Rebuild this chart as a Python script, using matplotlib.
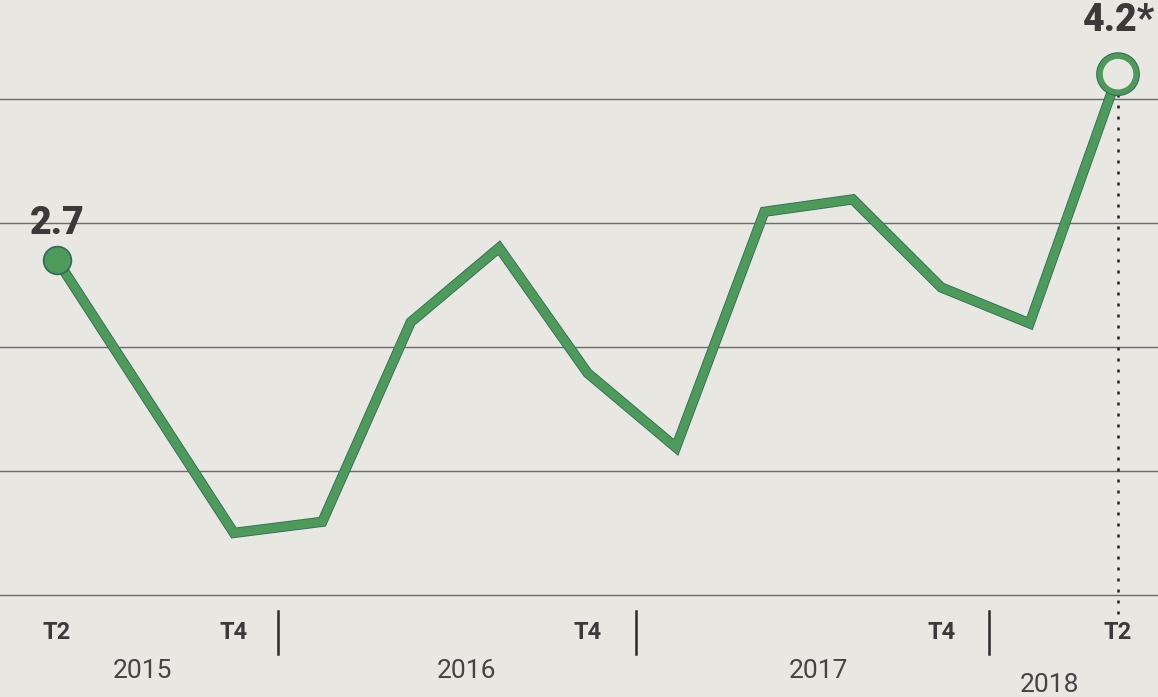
import matplotlib
matplotlib.use('Agg')
import matplotlib.pyplot as plt
import matplotlib.patheffects as pe

# ── DATA ─────────────────────────────────────────────────────
quarters = ['T2', 'T3', 'T4', 'T1', 'T2', 'T3', 'T4',
            'T1', 'T2', 'T3', 'T4', 'T1', 'T2']
values = [2.7, 1.6, 0.5, 0.59, 2.2, 2.8, 1.79,
          1.19, 3.09, 3.19, 2.48, 2.19, 4.2]
shown_ticks = [0, 2, 6, 10, 12]
years = ['2015', '2016', '2017', '2018']
grid_levels = [0, 1, 2, 3, 4]
first_label = '2.7'
last_label = '4.2*'

# ── STYLE ────────────────────────────────────────────────────
BG = '#e9e7e2'
GREEN = '#4d9a5a'
EDGE = '#2f6b5c'
TXT = '#3a3a3a'

plt.rcParams['font.family'] = ['Roboto', 'DejaVu Sans']

fig = plt.figure(figsize=(11.58, 6.97), dpi=100)
fig.patch.set_facecolor(BG)
ax = fig.add_axes([0, 0, 1, 1])
ax.set_facecolor(BG)
ax.set_xlim(-0.645, 12.452)
ax.set_ylim(-0.823, 4.798)
ax.axis('off')

# horizontal gridlines
for g in grid_levels:
    ax.axhline(g, color='#6b6b6b', lw=1.0, zorder=1)

x = list(range(len(values)))

# dotted drop line at the last point
ax.vlines(x[-1], -0.15, values[-1] - 0.17, colors='#222222', lw=1.8,
          linestyles=(0, (1.2, 3.2)), zorder=2)

# main line
ax.plot(x, values, color=GREEN, lw=6.2, solid_joinstyle='miter',
        solid_capstyle='butt', zorder=3,
        path_effects=[pe.Stroke(linewidth=7.4, foreground=EDGE), pe.Normal()])

# first point: filled, last point: hollow
ax.plot(x[0], values[0], 'o', ms=20, color=GREEN, mec=EDGE, mew=1.2, zorder=4)
ax.plot(x[-1], values[-1], 'o', ms=26, mfc=BG, mec=GREEN, mew=4, zorder=4,
        path_effects=[pe.Stroke(linewidth=5.5, foreground=EDGE), pe.Normal()])

# value labels
ax.annotate(first_label, (x[0], values[0]), xytext=(0, 19),
            textcoords='offset points', ha='center', va='baseline',
            fontsize=27, fontweight='heavy', color=TXT, zorder=5)
ax.annotate(last_label, (x[-1], values[-1]), xytext=(1, 31),
            textcoords='offset points', ha='center', va='baseline',
            fontsize=27, fontweight='heavy', color=TXT, zorder=5)

# quarter labels
for i in shown_ticks:
    ax.text(x[i], -0.30, quarters[i], ha='center', va='center',
            fontsize=17, fontweight='bold', color=TXT)

# year separators
for sx in [2.5, 6.55, 10.54]:
    ax.plot([sx, sx], [-0.13, -0.48], color='#2a2a2a', lw=1.8)

# year labels
year_x = [0.97, 4.63, 8.61, 11.23]
year_y = [-0.61, -0.61, -0.61, -0.73]
for lbl, yx, yy in zip(years, year_x, year_y):
    ax.text(yx, yy, lbl, ha='center', va='center', fontsize=19,
            color='#444444')

plt.savefig('out.png', dpi=100, facecolor=BG)
